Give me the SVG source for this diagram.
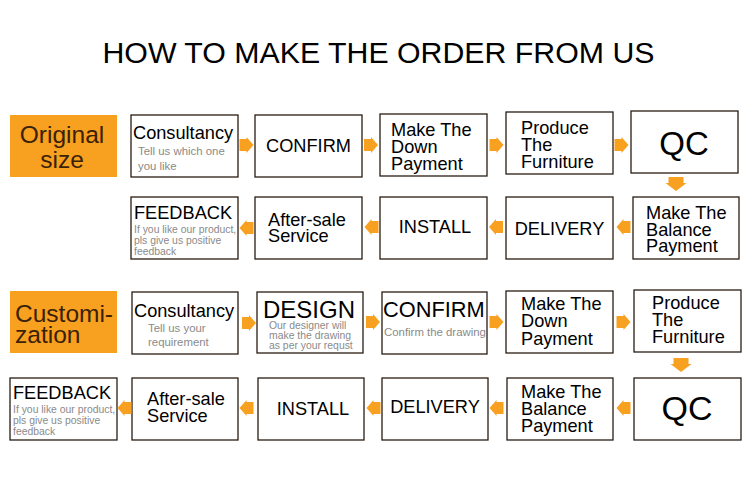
<svg xmlns="http://www.w3.org/2000/svg" width="750" height="489" viewBox="0 0 750 489">
<style>
.box{fill:#fff;stroke:#2a1d12;stroke-width:1.3}
.tag{fill:#F8A020}
.t{font-family:"Liberation Sans",Arial,sans-serif;fill:#000}
.tag-t{font-family:"Liberation Sans",Arial,sans-serif;fill:#3a2208;font-size:24.5px}
.mid{text-anchor:middle}
.m{font-size:18.2px}
.s{font-family:"Liberation Sans",Arial,sans-serif;fill:#8a8a8a;font-size:11.4px}
.xs{font-family:"Liberation Sans",Arial,sans-serif;fill:#8a8a8a;font-size:10.4px}
.arr{fill:#F8A020}
</style>
<defs>
<path id="ar" d="M-7,-6 H0 V-8 L7,0 L0,8 V6 H-7 Z"/>
<path id="al" d="M7,-6 H0 V-8 L-7,0 L0,8 V6 H7 Z"/>
<path id="ad" d="M-7.5,-7 H7.5 V-1 H10.5 L0,7 L-10.5,-1 H-7.5 Z"/>
</defs>
<rect width="750" height="489" fill="#fff"/>
<text class="t" x="378.5" y="63" font-size="30.3" text-anchor="middle">HOW TO MAKE THE ORDER FROM US</text>

<!-- Original size section -->
<g id="tag-original">
<rect class="tag" x="10" y="115" width="107" height="62"/>
<text class="tag-t mid" x="62" y="143">Original</text>
<text class="tag-t mid" x="62" y="168">size</text>
</g>
<g id="o-consultancy">
<rect class="box" x="131" y="115" width="107" height="62"/>
<text class="t m" x="133" y="139">Consultancy</text>
<text class="s" x="138" y="155">Tell us which one</text>
<text class="s" x="138" y="170">you like</text>
</g>
<g id="o-confirm">
<rect class="box" x="255" y="115" width="107" height="62"/>
<text class="t m mid" x="308.5" y="152">CONFIRM</text>
</g>
<g id="o-down">
<rect class="box" x="380" y="114" width="107" height="62"/>
<text class="t m" x="391" y="136">Make The</text>
<text class="t m" x="391" y="153">Down</text>
<text class="t m" x="391" y="170">Payment</text>
</g>
<g id="o-produce">
<rect class="box" x="506" y="112" width="107" height="62"/>
<text class="t m" x="521" y="134">Produce</text>
<text class="t m" x="521" y="151">The</text>
<text class="t m" x="521" y="168">Furniture</text>
</g>
<g id="o-qc">
<rect class="box" x="631" y="111" width="107" height="62"/>
<text class="t mid" x="684" y="155" font-size="33">QC</text>
</g>
<g id="o-balance">
<rect class="box" x="633" y="197" width="106" height="62"/>
<text class="t m" x="646" y="219">Make The</text>
<text class="t m" x="646" y="236">Balance</text>
<text class="t m" x="646" y="252">Payment</text>
</g>
<g id="o-delivery">
<rect class="box" x="506" y="197" width="107" height="62"/>
<text class="t m mid" x="559.5" y="235">DELIVERY</text>
</g>
<g id="o-install">
<rect class="box" x="380" y="197" width="107" height="62"/>
<text class="t m mid" x="435" y="233">INSTALL</text>
</g>
<g id="o-aftersale">
<rect class="box" x="255" y="197" width="107" height="62"/>
<text class="t m" x="268" y="226">After-sale</text>
<text class="t m" x="268" y="242">Service</text>
</g>
<g id="o-feedback">
<rect class="box" x="131" y="197" width="107" height="62"/>
<text class="t m" x="134" y="219">FEEDBACK</text>
<text class="xs" x="134" y="233">If you like our product,</text>
<text class="xs" x="134" y="244">pls give us positive</text>
<text class="xs" x="134" y="255">feedback</text>
</g>

<!-- Customization section -->
<g id="tag-custom">
<rect class="tag" x="10" y="291" width="107" height="62"/>
<text class="tag-t" x="15" y="322">Customi-</text>
<text class="tag-t" x="15" y="343">zation</text>
</g>
<g id="c-consultancy">
<rect class="box" x="132" y="292" width="106" height="62"/>
<text class="t m" x="134" y="317">Consultancy</text>
<text class="s" x="148" y="332">Tell us your</text>
<text class="s" x="148" y="346">requirement</text>
</g>
<g id="c-design">
<rect class="box" x="257" y="292" width="106" height="61"/>
<text class="t" x="263" y="318" font-size="24">DESIGN</text>
<text class="xs" x="269" y="329">Our designer will</text>
<text class="xs" x="269" y="339">make the drawing</text>
<text class="xs" x="269" y="349">as per your requst</text>
</g>
<g id="c-confirm">
<rect class="box" x="382" y="292" width="105" height="62"/>
<text class="t" x="383" y="317" font-size="21.8">CONFIRM</text>
<text class="s" x="384" y="336">Confirm the drawing</text>
</g>
<g id="c-down">
<rect class="box" x="506" y="291" width="107" height="62"/>
<text class="t m" x="521" y="310">Make The</text>
<text class="t m" x="521" y="327">Down</text>
<text class="t m" x="521" y="345">Payment</text>
</g>
<g id="c-produce">
<rect class="box" x="634" y="290" width="107" height="62"/>
<text class="t m" x="652" y="309">Produce</text>
<text class="t m" x="652" y="326">The</text>
<text class="t m" x="652" y="343">Furniture</text>
</g>
<g id="c-qc">
<rect class="box" x="634" y="378" width="107" height="62"/>
<text class="t mid" x="687" y="420" font-size="34">QC</text>
</g>
<g id="c-balance">
<rect class="box" x="507" y="378" width="106" height="62"/>
<text class="t m" x="521" y="398">Make The</text>
<text class="t m" x="521" y="415">Balance</text>
<text class="t m" x="521" y="432">Payment</text>
</g>
<g id="c-delivery">
<rect class="box" x="382" y="378" width="106" height="62"/>
<text class="t m mid" x="435" y="413">DELIVERY</text>
</g>
<g id="c-install">
<rect class="box" x="258" y="378" width="106" height="62"/>
<text class="t m mid" x="313" y="415">INSTALL</text>
</g>
<g id="c-aftersale">
<rect class="box" x="132" y="378" width="106" height="62"/>
<text class="t m" x="147" y="405">After-sale</text>
<text class="t m" x="147" y="422">Service</text>
</g>
<g id="c-feedback">
<rect class="box" x="10" y="378" width="107" height="62"/>
<text class="t m" x="13" y="399">FEEDBACK</text>
<text class="xs" x="13" y="413">If you like our product,</text>
<text class="xs" x="13" y="424">pls give us positive</text>
<text class="xs" x="13" y="435">feedback</text>
</g>

<g id="connectors" class="arr">
<use href="#ar" x="246.5" y="145"/>
<use href="#ar" x="371" y="145"/>
<use href="#ar" x="496.5" y="145"/>
<use href="#ar" x="621.5" y="145"/>
<use href="#ad" x="676" y="184"/>
<use href="#al" x="623.5" y="227"/>
<use href="#al" x="496" y="227"/>
<use href="#al" x="371.5" y="227"/>
<use href="#al" x="246.5" y="228"/>
<use href="#ar" x="249" y="323"/>
<use href="#ar" x="373" y="322"/>
<use href="#ar" x="496.5" y="322"/>
<use href="#ar" x="623.5" y="322"/>
<use href="#ad" x="681" y="365"/>
<use href="#al" x="623.5" y="408"/>
<use href="#al" x="496.5" y="408"/>
<use href="#al" x="373.5" y="408"/>
<use href="#al" x="246.5" y="408"/>
<use href="#al" x="124.5" y="408"/>
</g>
</svg>
